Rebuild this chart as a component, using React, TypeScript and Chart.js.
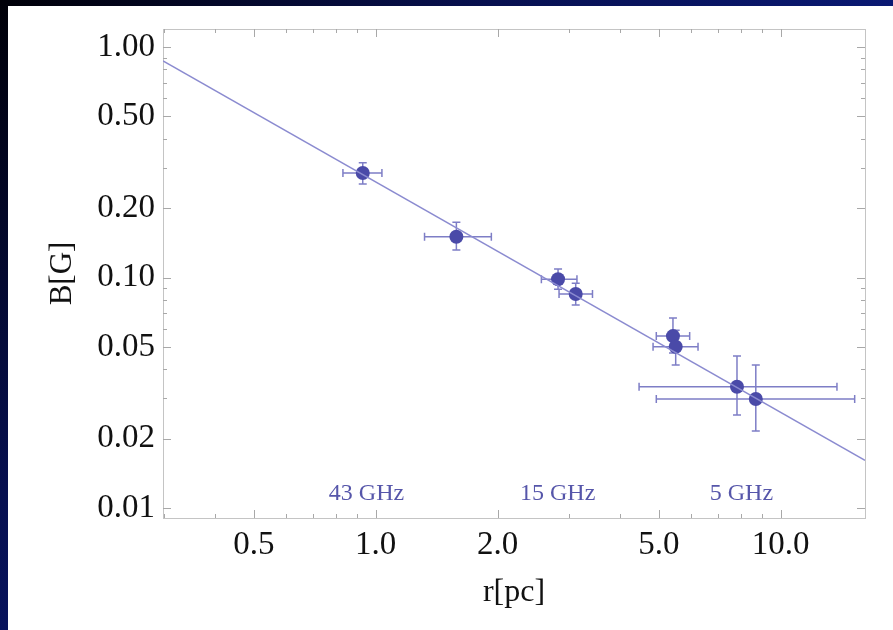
import React, { useEffect, useRef } from "react";
import { Chart, registerables } from "chart.js";

Chart.register(...registerables);

// Measurements: distance r [pc] and magnetic field B [G]
const rValues = [0.929, 1.582, 2.82, 3.118, 5.42, 5.505, 7.8, 8.68];
const rLow = [0.83, 1.32, 2.565, 2.836, 4.93, 4.84, 4.47, 4.93];
const rHigh = [1.036, 1.93, 3.14, 3.43, 5.96, 6.25, 13.77, 15.23];
const bValues = [0.284, 0.1503, 0.0982, 0.0848, 0.0557, 0.0501, 0.0336, 0.0297];
const bLow = [0.2545, 0.1316, 0.0889, 0.076, 0.047, 0.0417, 0.0253, 0.0216];
const bHigh = [0.315, 0.1736, 0.1088, 0.0944, 0.0668, 0.0591, 0.0456, 0.0417];

// Power-law fit endpoints
const fitR = [0.2984, 16.15];
const fitB = [0.87, 0.0161];

// Frequency band annotations
const bandLabels = ["43 GHz", "15 GHz", "5 GHz"];
const bandLabelR = [0.949, 2.814, 8.0];
const bandLabelB = [0.0108, 0.0108, 0.0108];

// Axis ticks
const xMajorTicks = [0.5, 1, 2, 5, 10];
const yMajorTicks = [0.01, 0.02, 0.05, 0.1, 0.2, 0.5, 1];
const xMinorTicks = [0.3, 0.4, 0.6, 0.7, 0.8, 0.9, 3, 4, 6, 7, 8, 9];
const yMinorTicks = [0.03, 0.04, 0.06, 0.07, 0.08, 0.09, 0.3, 0.4, 0.6, 0.7, 0.8, 0.9];

const xRange = [0.2984, 16.15];
const yRange = [0.00905, 1.197];

const SERIF = "'Liberation Serif', 'DejaVu Serif', serif";
const POINT_COLOR = "#4a4aa8";
const ERR_COLOR = "#7e7ec6";
const FIT_COLOR = "#8b8bd0";
const LABEL_COLOR = "#5656aa";

const framePlugin = {
  id: "frameTicks",
  beforeDatasetsDraw(chart: any) {
    const { ctx, chartArea: a, scales } = chart;
    const x = scales.x;
    const y = scales.y;
    ctx.save();
    ctx.strokeStyle = "#c4c4c4";
    ctx.lineWidth = 1;
    ctx.strokeRect(Math.round(a.left) + 0.5, Math.round(a.top) + 0.5, Math.round(a.right - a.left), Math.round(a.bottom - a.top));
    ctx.strokeStyle = "#a8a8a8";
    const drawX = (v: number, len: number) => {
      const px = Math.round(x.getPixelForValue(v)) + 0.5;
      ctx.beginPath();
      ctx.moveTo(px, a.bottom);
      ctx.lineTo(px, a.bottom - len);
      ctx.moveTo(px, a.top);
      ctx.lineTo(px, a.top + len);
      ctx.stroke();
    };
    const drawY = (v: number, len: number) => {
      const py = Math.round(y.getPixelForValue(v)) + 0.5;
      ctx.beginPath();
      ctx.moveTo(a.left, py);
      ctx.lineTo(a.left + len, py);
      ctx.moveTo(a.right, py);
      ctx.lineTo(a.right - len, py);
      ctx.stroke();
    };
    xMajorTicks.forEach((v) => drawX(v, 8));
    xMinorTicks.forEach((v) => drawX(v, 4));
    yMajorTicks.forEach((v) => drawY(v, 8));
    yMinorTicks.forEach((v) => drawY(v, 4));

    // error bars
    ctx.strokeStyle = ERR_COLOR;
    ctx.lineWidth = 1.5;
    const cap = 4;
    rValues.forEach((r, i) => {
      const px = x.getPixelForValue(r);
      const py = y.getPixelForValue(bValues[i]);
      const x0 = x.getPixelForValue(rLow[i]);
      const x1 = x.getPixelForValue(rHigh[i]);
      const y0 = y.getPixelForValue(bLow[i]);
      const y1 = y.getPixelForValue(bHigh[i]);
      ctx.beginPath();
      ctx.moveTo(x0, py);
      ctx.lineTo(x1, py);
      ctx.moveTo(x0, py - cap);
      ctx.lineTo(x0, py + cap);
      ctx.moveTo(x1, py - cap);
      ctx.lineTo(x1, py + cap);
      ctx.moveTo(px, y0);
      ctx.lineTo(px, y1);
      ctx.moveTo(px - cap, y0);
      ctx.lineTo(px + cap, y0);
      ctx.moveTo(px - cap, y1);
      ctx.lineTo(px + cap, y1);
      ctx.stroke();
    });
    ctx.restore();
  },
  afterDatasetsDraw(chart: any) {
    const { ctx, scales } = chart;
    ctx.save();
    ctx.fillStyle = LABEL_COLOR;
    ctx.font = `24px ${SERIF}`;
    ctx.textAlign = "center";
    ctx.textBaseline = "alphabetic";
    bandLabels.forEach((t, i) => {
      ctx.fillText(t, scales.x.getPixelForValue(bandLabelR[i]), scales.y.getPixelForValue(bandLabelB[i]));
    });
    ctx.restore();
  },
};

export default function App() {
  const canvasRef = useRef<HTMLCanvasElement | null>(null);

  useEffect(() => {
    if (!canvasRef.current) return;
    const chart = new Chart(canvasRef.current, {
      type: "scatter",
      data: {
        datasets: [
          {
            type: "line",
            data: fitR.map((r, i) => ({ x: r, y: fitB[i] })),
            borderColor: FIT_COLOR,
            borderWidth: 1.5,
            pointRadius: 0,
            fill: false,
          } as any,
          {
            data: rValues.map((r, i) => ({ x: r, y: bValues[i] })),
            backgroundColor: POINT_COLOR,
            borderWidth: 0,
            pointRadius: 7,
          },
        ],
      },
      options: {
        animation: false,
        responsive: false,
        devicePixelRatio: 1,
        layout: { padding: { left: 36, top: 23, right: 28, bottom: 18 } },
        plugins: { legend: { display: false }, tooltip: { enabled: false } },
        scales: {
          x: {
            type: "logarithmic",
            min: xRange[0],
            max: xRange[1],
            grid: { display: false, drawTicks: false },
            border: { display: false },
            afterBuildTicks: (s: any) => {
              s.ticks = xMajorTicks.map((v) => ({ value: v }));
            },
            afterFit: (s: any) => {
              s.height = 94;
              s.paddingLeft = 0;
              s.paddingRight = 0;
            },
            ticks: {
              autoSkip: false,
              maxRotation: 0,
              padding: 8,
              color: "#111",
              font: { family: SERIF, size: 33 },
              callback: (v: any) => Number(v).toFixed(1),
            },
            title: {
              display: true,
              text: "r[pc]",
              color: "#111",
              font: { family: SERIF, size: 32 },
              padding: 0,
            },
          },
          y: {
            type: "logarithmic",
            min: yRange[0],
            max: yRange[1],
            grid: { display: false, drawTicks: false },
            border: { display: false },
            afterBuildTicks: (s: any) => {
              s.ticks = yMajorTicks.map((v) => ({ value: v }));
            },
            afterFit: (s: any) => {
              s.width = 119;
              s.paddingTop = 0;
              s.paddingBottom = 0;
            },
            ticks: {
              autoSkip: false,
              padding: 8,
              color: "#111",
              font: { family: SERIF, size: 33 },
              callback: (v: any) => Number(v).toFixed(2),
            },
            title: {
              display: true,
              text: "B[G]",
              color: "#111",
              font: { family: SERIF, size: 31 },
              padding: 0,
            },
          },
        },
      },
      plugins: [framePlugin],
    });
    return () => chart.destroy();
  }, []);

  return (
    <div
      style={{
        position: "fixed",
        left: 0,
        top: 0,
        width: 893,
        height: 630,
        background: "radial-gradient(circle at 0 0, #000008 0%, #071050 45%, #0b1d84 100%)",
        overflow: "hidden",
      }}
    >
      <div style={{ position: "absolute", left: 8, top: 6, width: 885, height: 624, background: "#fff" }}>
        <canvas ref={canvasRef} width={885} height={624} style={{ display: "block", width: 885, height: 624 }} />
      </div>
    </div>
  );
}
